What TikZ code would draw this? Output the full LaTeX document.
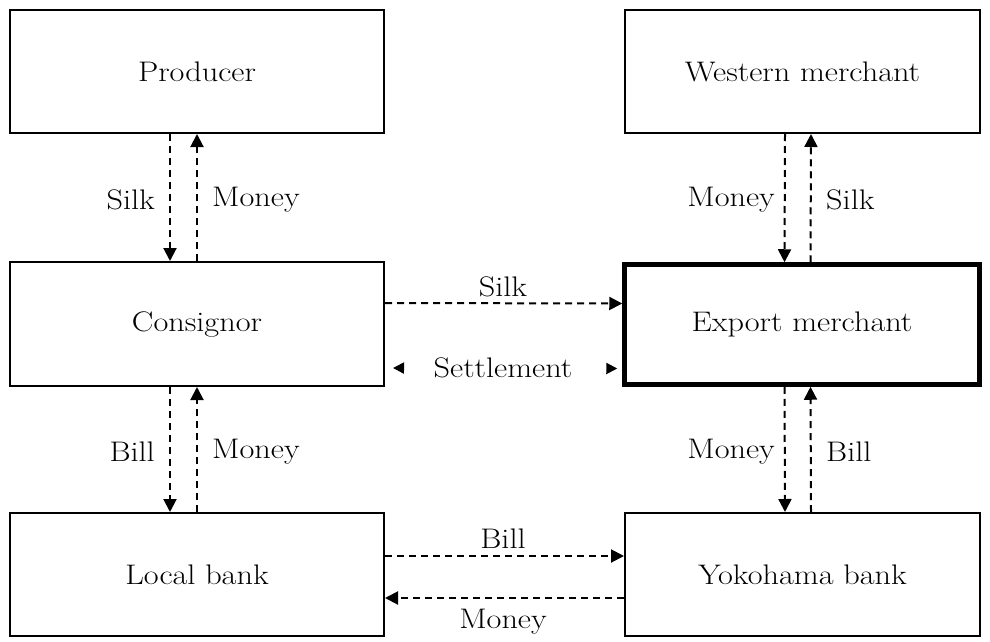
\documentclass[tikz,border=0pt]{standalone}
\usepackage{fontspec}
\setmainfont{Latin Modern Roman}[FakeStretch=1.14]
\usetikzlibrary{arrows.meta}
\begin{document}
\begin{tikzpicture}[x=1pt,y=-1pt,
  box/.style={draw, line width=2pt, minimum width=374pt, minimum height=123pt, inner sep=0pt, font=\fontsize{28.3}{33}\selectfont},
  rbox/.style={box, minimum width=355pt},
  thickbox/.style={rbox, line width=4.5pt},
  flow/.style={line width=2pt, dash pattern=on 7pt off 5pt, -{Triangle[length=13pt,width=13pt]}},
  tipsonly/.style={line width=2pt, dash pattern=on 0pt off 2000pt, line cap=butt, {Triangle[length=11pt,width=11pt]}-{Triangle[length=11pt,width=11pt]}},
  lbl/.style={font=\fontsize{28.3}{33}\selectfont, inner sep=0pt}]
\useasboundingbox (0,0) rectangle (990,642);
\node[box] (prod) at (197,71.5) {Producer};
\node[rbox] (west) at (802.5,71.5) {Western merchant};
\node[box, minimum height=124pt] (cons) at (197,324) {Consignor};
\node[thickbox, minimum height=120pt] (exp) at (802,324.5) {Export merchant};
\node[box] (local) at (197,574.5) {Local bank};
\node[rbox] (yoko) at (802.5,574.5) {Yokohama bank};
% left column
\draw[flow] ([xshift=-27pt]prod.south) -- ([xshift=-27pt]cons.north);
\draw[flow] (cons.north) -- (prod.south);
\draw[flow] ([xshift=-27pt]cons.south) -- ([xshift=-27pt]local.north);
\draw[flow] (local.north) -- (cons.south);
% right column
\draw[flow] ([xshift=-17.5pt]west.south) -- ([xshift=-17.5pt]exp.north);
\draw[flow] ([xshift=8.5pt]exp.north) -- ([xshift=8.5pt]west.south);
\draw[flow] ([xshift=-17.5pt]exp.south) -- ([xshift=-17.5pt]yoko.north);
\draw[flow] ([xshift=8.5pt]yoko.north) -- ([xshift=8.5pt]exp.south);
% horizontal
\draw[flow] ([yshift=21pt]cons.east) -- ([yshift=21pt]exp.west);
\draw[tipsonly, shorten <=8pt, shorten >=5pt] ([yshift=-44pt]cons.east) -- ([yshift=-44pt]exp.west);
\draw[flow] ([yshift=18.5pt]local.east) -- ([yshift=18.5pt]yoko.west);
\draw[flow] ([yshift=-23.5pt]yoko.west) -- ([yshift=-23.5pt]local.east);
% labels
\node[lbl, anchor=east] (l1) at (155,200) {Silk};
\node[lbl, anchor=west] (l2) at (212,200) {Money};
\node[lbl, anchor=east] (l3) at (155,452) {Bill};
\node[lbl, anchor=west] (l4) at (212,452) {Money};
\node[lbl, anchor=east] (r1) at (775,200) {Money};
\node[lbl, anchor=west] (r2) at (826,200) {Silk};
\node[lbl, anchor=east] (r3) at (775,452) {Money};
\node[lbl, anchor=west] (r4) at (826,452) {Bill};
\node[lbl] (h1) at (503,287) {Silk};
\node[lbl] (h2) at (503,368) {Settlement};
\node[lbl] (h3) at (503,539) {Bill};
\node[lbl] (h4) at (503,622) {Money};
\end{tikzpicture}
\end{document}
